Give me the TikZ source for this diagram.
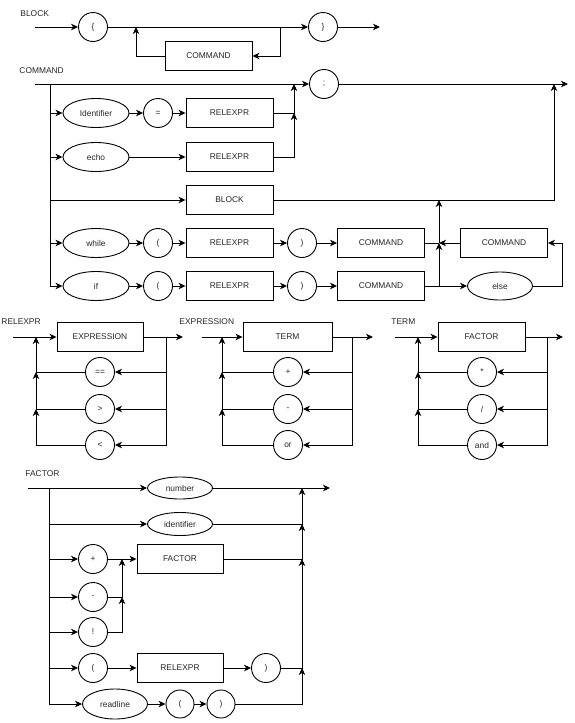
\documentclass[tikz,border=0pt]{standalone}
\usepackage{fontspec}
\setmainfont{Liberation Sans}
\usetikzlibrary{shapes.geometric,arrows.meta}
\begin{document}
\begin{tikzpicture}[x=1pt,y=-1pt,
  every node/.style={font=\fontsize{8.4}{10}\selectfont, text=black!85},
  lbl/.style={anchor=west, inner sep=0pt},
  box/.style={draw=black, rectangle, minimum width=87pt, minimum height=29pt, inner sep=0pt, line width=0.9pt},
  circ/.style={draw=black, circle, minimum size=29pt, inner sep=0pt, line width=0.9pt},
  ell/.style={draw=black, ellipse, minimum width=66pt, minimum height=29pt, inner sep=0pt, line width=0.9pt},
  flat/.style={ell, minimum width=65pt, minimum height=22pt},
  arr/.style={-{Stealth[length=7pt,width=6.5pt,inset=2pt]}},
  line width=0.9pt]
\useasboundingbox (0,0) rectangle (575,723);

% ---------------- BLOCK ----------------
\node[lbl] (lblock) at (20,14) {BLOCK};
\coordinate (bs) at (35,27);
\node[circ] (lb) at (93,27) {\{};
\node[circ] (rb) at (323,27) {\}};
\coordinate (be) at (380,27);
\node[box] (bcmd) at (208.5,56) {COMMAND};
\coordinate (bj1) at (280,27);
\coordinate (bj2) at (136,27);
\draw[arr] (bs) -- (lb);
\draw[arr] (lb) -- (rb);
\draw[arr] (rb) -- (be);
\draw[arr] (bj1) |- (bcmd.east);
\draw[arr] (bcmd.west) -| (bj2);

% ---------------- COMMAND ----------------
\node[lbl] (lcommand) at (19,71) {COMMAND};
\coordinate (cs) at (35,84);
\node[circ] (semi) at (324,84) {;};
\coordinate (ce) at (568,84);
\draw[arr] (cs) -- (semi);
\draw[arr] (semi) -- (ce);
\coordinate (cv) at (50,84);
\coordinate (m1) at (294,84);
\coordinate (m2) at (554,84);

\node[ell] (ident) at (96,113) {Identifier};
\node[circ] (eq) at (158,113) {=};
\node[box] (rx1) at (229.5,113) {RELEXPR};
\node[ell] (echo) at (96,157) {echo};
\node[box] (rx2) at (229.5,157) {RELEXPR};
\node[box] (blk) at (229.5,200) {BLOCK};
\node[ell] (while) at (96,243) {while};
\node[circ] (wl) at (158,243) {(};
\node[box] (rx3) at (229.5,243) {RELEXPR};
\node[circ] (wr) at (302,243) {)};
\node[box] (wc) at (381,243) {COMMAND};
\node[box] (ec) at (504,243) {COMMAND};
\node[ell] (ifn) at (96,286) {if};
\node[circ] (il) at (158,286) {(};
\node[box] (rx4) at (229.5,286) {RELEXPR};
\node[circ] (ir) at (302,286) {)};
\node[box] (ic) at (381,286) {COMMAND};
\node[ell, minimum width=65pt, minimum height=28pt] (else) at (500,286) {else};
\coordinate (j4) at (439,243);
\coordinate (m3) at (439,200);
\coordinate (eloop) at (562,286);

\draw[arr] (cv) |- (ifn);
\draw[arr] (cv |- ident) -- (ident);
\draw[arr] (cv |- echo) -- (echo);
\draw[arr] (cv |- blk) -- (blk);
\draw[arr] (cv |- while) -- (while);

\draw[arr] (ident) -- (eq);
\draw[arr] (eq) -- (rx1);
\draw[arr] (rx1.east) -| (m1);
\draw[arr] (echo) -- (rx2);
\draw[arr] (rx2.east) -| (m1 |- rx1);
\draw[arr] (blk.east) -| (m2);

\draw[arr] (while) -- (wl);
\draw[arr] (wl) -- (rx3);
\draw[arr] (rx3) -- (wr);
\draw[arr] (wr) -- (wc);
\draw (wc.east) -- (j4);
\draw[arr] (j4) -- (m3);
\draw[arr] (ec.west) -- (j4);

\draw[arr] (ifn) -- (il);
\draw[arr] (il) -- (rx4);
\draw[arr] (rx4) -- (ir);
\draw[arr] (ir) -- (ic);
\draw[arr] (ic.east) -- (else);
\draw[arr] (ic.east) -| (j4);
\draw[arr] (else.east) -- (eloop) |- (ec.east);

% ---------------- RELEXPR ----------------
\node[lbl] (lrel) at (1,322) {RELEXPR};
\coordinate (rs) at (13,337);
\node[box, minimum width=86pt] (rexp) at (100,337) {EXPRESSION};
\coordinate (re) at (183,337);
\coordinate (rr) at (166,337);
\coordinate (rl) at (36,337);
\node[circ] (req) at (100,372) {==};
\node[circ] (rgt) at (100,409) {>};
\node[circ] (rlt) at (100,445) {<};
\draw[arr] (rs) -- (rexp);
\draw[arr] (rexp) -- (re);
\draw[arr] (rr) |- (rlt);
\draw[arr] (rr |- req) -- (req);
\draw[arr] (rr |- rgt) -- (rgt);
\draw[arr] (rlt.west) -| (rl |- rgt);
\draw[arr] (rgt.west) -| (rl |- req);
\draw[arr] (req.west) -| (rl);

% ---------------- EXPRESSION ----------------
\node[lbl] (lexpr) at (179,322) {EXPRESSION};
\coordinate (es) at (202,337);
\node[box, minimum width=89pt] (eterm) at (287.5,337) {TERM};
\coordinate (ee) at (373,337);
\coordinate (er) at (352,337);
\coordinate (el) at (222,337);
\node[circ] (eplus) at (288,372) {+};
\node[circ] (eminus) at (288,409) {-};
\node[circ] (eor) at (288,445) {or};
\draw[arr] (es) -- (eterm);
\draw[arr] (eterm) -- (ee);
\draw[arr] (er) |- (eor);
\draw[arr] (er |- eplus) -- (eplus);
\draw[arr] (er |- eminus) -- (eminus);
\draw[arr] (eor.west) -| (el |- eminus);
\draw[arr] (eminus.west) -| (el |- eplus);
\draw[arr] (eplus.west) -| (el);

% ---------------- TERM ----------------
\node[lbl] (lterm) at (391,322) {TERM};
\coordinate (ts) at (395,337);
\node[box] (tfac) at (481.5,337) {FACTOR};
\coordinate (te) at (563,337);
\coordinate (tr) at (547,337);
\coordinate (tl) at (418,337);
\node[circ] (tmul) at (482,372) {*};
\node[circ] (tdiv) at (482,409) {/};
\node[circ] (tand) at (482,445) {and};
\draw[arr] (ts) -- (tfac);
\draw[arr] (tfac) -- (te);
\draw[arr] (tr) |- (tand);
\draw[arr] (tr |- tmul) -- (tmul);
\draw[arr] (tr |- tdiv) -- (tdiv);
\draw[arr] (tand.west) -| (tl |- tdiv);
\draw[arr] (tdiv.west) -| (tl |- tmul);
\draw[arr] (tmul.west) -| (tl);

% ---------------- FACTOR ----------------
\node[lbl] (lfac) at (25,474) {FACTOR};
\coordinate (fs) at (28,488);
\node[flat] (num) at (180,488) {number};
\coordinate (fe) at (330,488);
\coordinate (fl) at (49,488);
\coordinate (fr) at (302,488);
\node[flat, minimum height=23pt] (fid) at (180,524) {identifier};
\node[circ] (fplus) at (93,559) {+};
\node[box, minimum width=86pt] (fbox) at (180,559) {FACTOR};
\node[circ] (fminus) at (93,597) {-};
\node[circ] (fbang) at (93,632) {!};
\node[circ] (flp) at (93,668) {(};
\node[box, minimum width=86pt] (frx) at (180,668) {RELEXPR};
\node[circ] (frp) at (266,668) {)};
\node[ell, minimum width=65pt, minimum height=30pt] (frd) at (115,704) {readline};
\node[circ, minimum size=28pt] (frlp) at (180,704) {(};
\node[circ, minimum size=28pt] (frrp) at (221,704) {)};
\coordinate (uj) at (122,559);

\draw[arr] (fs) -- (num);
\draw[arr] (num) -- (fe);
\draw[arr] (fl) |- (frd);
\draw[arr] (fl |- fid) -- (fid);
\draw[arr] (fl |- fplus) -- (fplus);
\draw[arr] (fl |- fminus) -- (fminus);
\draw[arr] (fl |- fbang) -- (fbang);
\draw[arr] (fl |- flp) -- (flp);

\draw[arr] (fplus) -- (fbox);
\draw[arr] (fbang.east) -| (uj |- fminus);
\draw[arr] (fminus.east) -| (uj);
\draw[arr] (flp) -- (frx);
\draw[arr] (frx) -- (frp);
\draw[arr] (frd) -- (frlp);
\draw[arr] (frlp) -- (frrp);

\draw[arr] (frrp.east) -| (fr |- frp);
\draw[arr] (frp.east) -| (fr |- fbox);
\draw[arr] (fbox.east) -| (fr |- fid);
\draw[arr] (fid.east) -| (fr);
\end{tikzpicture}
\end{document}
